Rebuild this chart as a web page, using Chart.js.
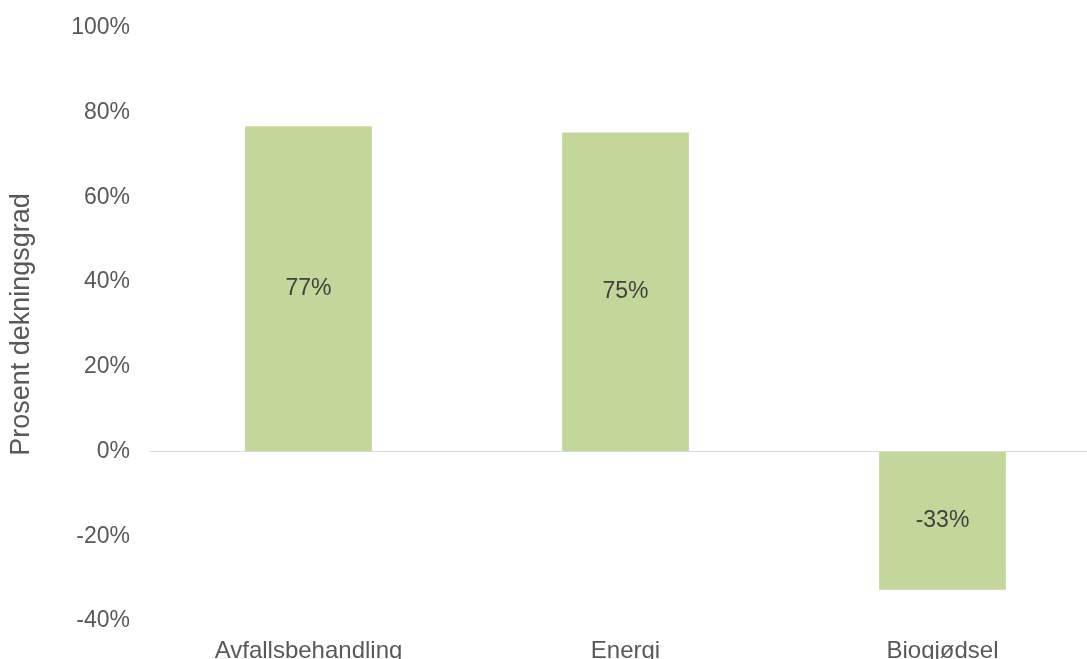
<!DOCTYPE html>
<html>
<head>
<meta charset="utf-8">
<script src="https://cdn.jsdelivr.net/npm/chart.js@4/dist/chart.umd.min.js"></script>
<style>
  html, body { margin: 0; padding: 0; background: #fff; overflow: hidden; }
  #wrap { width: 1087px; height: 659px; overflow: hidden; position: relative; }
</style>
</head>
<body>
<div id="wrap"><canvas id="myChart" width="1120" height="659"></canvas></div>
<script>
var categories = ['Avfallsbehandling', 'Energi', 'Biogjødsel'];
var dekningsgrad = [76.8, 75.3, -32.6];
var yTicks = [-40, -20, 0, 20, 40, 60, 80, 100];

var fontFamily = '"Liberation Sans", Arial, sans-serif';

// labels in the middle of each bar
var barLabels = {
    id: 'barLabels',
    afterDatasetsDraw: function (chart) {
        var ctx = chart.ctx;
        var meta = chart.getDatasetMeta(0);
        ctx.save();
        ctx.font = '23px ' + fontFamily;
        ctx.fillStyle = '#404040';
        ctx.textAlign = 'center';
        ctx.textBaseline = 'middle';
        meta.data.forEach(function (bar, i) {
            var v = chart.data.datasets[0].data[i];
            var y = (bar.y + bar.base) / 2;
            ctx.fillText(Math.round(v) + '%', bar.x, y);
        });
        ctx.restore();
    }
};

new Chart(document.getElementById('myChart'), {
    type: 'bar',
    data: {
        labels: categories,
        datasets: [{
            data: dekningsgrad,
            backgroundColor: '#C4D79B',
            borderWidth: 0,
            categoryPercentage: 1,
            barPercentage: 0.4
        }]
    },
    options: {
        responsive: false,
        animation: false,
        layout: { padding: { top: 28, right: 19, left: 0, bottom: 0 } },
        plugins: {
            legend: { display: false },
            tooltip: { enabled: false }
        },
        scales: {
            x: {
                grid: { display: false },
                border: { display: false },
                ticks: {
                    color: '#595959',
                    font: { family: fontFamily, size: 24 },
                    padding: 8,
                    maxRotation: 0
                },
                afterFit: function (scale) { scale.height = 38; }
            },
            y: {
                min: -40,
                max: 100,
                afterBuildTicks: function (scale) {
                    scale.ticks = yTicks.map(function (v) { return { value: v }; });
                },
                grid: {
                    drawTicks: false,
                    lineWidth: 1,
                    color: function (c) { return c.tick && c.tick.value === 0 ? '#D9D9D9' : 'rgba(0,0,0,0)'; }
                },
                border: { display: false },
                ticks: {
                    color: '#595959',
                    font: { family: fontFamily, size: 23 },
                    padding: 20,
                    callback: function (v) { return v + '%'; }
                },
                title: {
                    display: true,
                    text: 'Prosent dekningsgrad',
                    color: '#595959',
                    font: { family: fontFamily, size: 27 },
                    padding: { top: 5, bottom: 0 }
                },
                afterFit: function (scale) {
                    scale.width = 150;
                    scale.paddingTop = 0;
                    scale.paddingBottom = 0;
                }
            }
        }
    },
    plugins: [barLabels]
});
</script>
</body>
</html>
